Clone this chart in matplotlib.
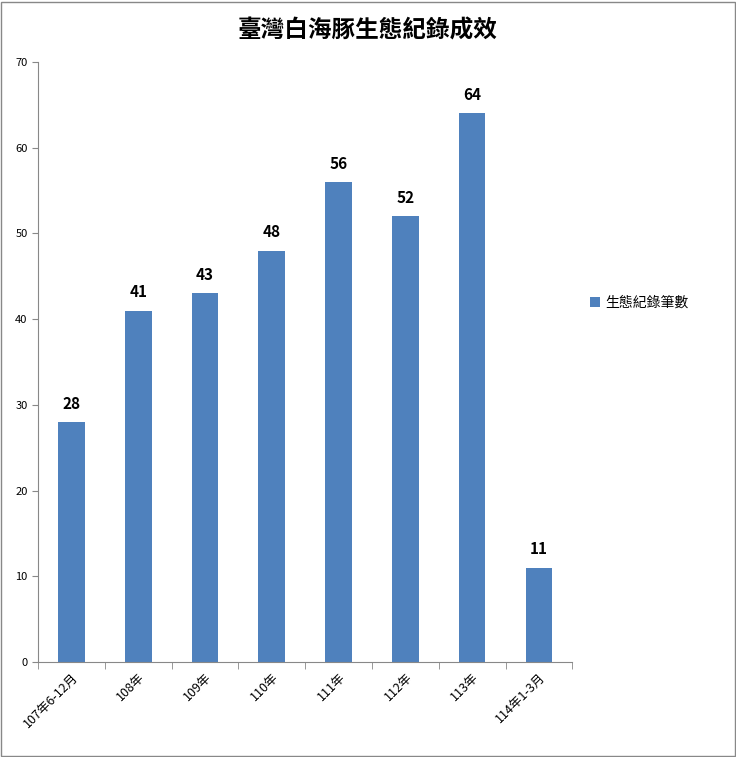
import matplotlib
matplotlib.use('Agg')
import matplotlib.pyplot as plt
import numpy as np

plt.rcParams['font.family'] = ['Noto Sans CJK TC', 'DejaVu Sans']

categories = ['107年6-12月', '108年', '109年', '110年', '111年', '112年', '113年', '114年1-3月']
values = [28, 41, 43, 48, 56, 52, 64, 11]
title = '臺灣白海豚生態紀錄成效'
series_name = '生態紀錄筆數'
bar_color = '#4f81bd'

fig = plt.figure(figsize=(7.36, 7.57), dpi=100)
ax = fig.add_axes([0.0516, 0.1255, 0.726, 0.7926])

x = np.arange(len(categories))
bars = ax.bar(x, values, width=0.4, color=bar_color, label=series_name)
for xi, v in zip(x, values):
    ax.text(xi, v + 1.2, str(v), ha='center', va='bottom', fontsize=11, fontweight='bold')

ax.set_xlim(-0.5, len(categories) - 0.5)
ax.set_ylim(0, 70)
ax.set_yticks(range(0, 71, 10))
ax.tick_params(axis='y', labelsize=8, length=4, color='#888888')
ax.set_xticks(x)
ax.set_xticklabels(categories, rotation=45, ha='right', rotation_mode='anchor', fontsize=9)
ax.tick_params(axis='x', which='major', length=0, pad=6)
ax.set_xticks(np.arange(-0.5, len(categories)), minor=True)
ax.tick_params(axis='x', which='minor', length=5, color='#888888')

for s in ['top', 'right']:
    ax.spines[s].set_visible(False)
for s in ['left', 'bottom']:
    ax.spines[s].set_color('#888888')

fig.text(0.5, 0.96, title, ha='center', va='center', fontsize=17, fontweight='bold')
fig.legend(handles=[bars], labels=[series_name], loc='center left',
           bbox_to_anchor=(0.785, 0.6), frameon=False, fontsize=10,
           handlelength=0.7, handleheight=0.7, handletextpad=0.4)

fig.patches.append(plt.Rectangle((0.001, 0.001), 0.997, 0.997, transform=fig.transFigure,
                                 fill=False, edgecolor='#888888', linewidth=1))

fig.savefig('out.png', dpi=100)
